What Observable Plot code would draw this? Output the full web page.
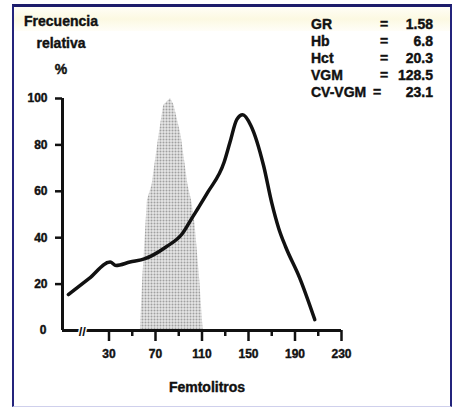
<!DOCTYPE html>
<html><head><meta charset="utf-8">
<script src="https://cdn.jsdelivr.net/npm/d3@7"></script>
<script src="https://cdn.jsdelivr.net/npm/@observablehq/plot@0.6"></script>
<style>
body{margin:0;background:#fff;}
#wrap{position:relative;width:458px;height:408px;overflow:hidden;background:#fff;}
#band{position:absolute;left:14px;top:7px;width:436px;height:24px;background:linear-gradient(#fffef6,#fcf9e2 50%,#fffef8);}
#frame{position:absolute;left:12px;top:4px;width:436px;height:399px;border-left:2px solid #24247c;border-right:2px solid #24247c;border-top:3px solid #1c1c6a;border-bottom:1px solid #cfd0ec;pointer-events:none;}
#wrap svg{position:absolute;left:0;top:0;}
</style></head><body>
<div id="wrap"><div id="band"></div></div>
<script>
// Patient curve (femtolitres, relative frequency %)
const curveX = [-5, 13, 31, 36, 48, 61, 67, 79, 93, 102, 107, 115, 129, 134, 140, 145, 152, 163, 170, 176, 182, 194, 207];
const curveY = [15.5, 22.5, 29.5, 28, 29.5, 31, 32.3, 36, 41.7, 49, 53, 59.6, 72.5, 81, 91, 93, 88.4, 71, 55, 44, 36, 22.7, 4.7];
// Normal reference distribution (shaded)
const normalX = [57, 59, 61, 63, 67, 73, 77, 83, 86, 92, 98, 101, 104, 108, 111];
const normalY = [0, 22, 39, 56, 62.5, 84, 97, 100, 97, 84, 62.5, 56, 46, 22, 0];
// Axis ticks
const yTicks = [0, 20, 40, 60, 80, 100];
const xMajorTicks = [30, 70, 110, 150, 190, 230];
const xMinorTicks = [50, 90, 130, 170, 210];
const xStart = -10;
const xBreak = 7;
// Texts
const titleLines = ["Frecuencia", "relativa", "%"];
const xLabel = "Femtolitros";
const legendLabels = ["GR", "Hb", "Hct", "VGM", "CV-VGM"];
const legendValues = ["1.58", "6.8", "20.3", "128.5", "23.1"];

const curve = curveX.map((x, i) => ({x, y: curveY[i]}));
const normal = normalX.map((x, i) => ({x, y: normalY[i]}));
const font = "'Liberation Sans', Arial, sans-serif";

const plot = Plot.plot({
  width: 458, height: 408,
  marginLeft: 62, marginRight: 117, marginTop: 98, marginBottom: 78,
  style: {background: "transparent", fontFamily: font, fontWeight: "bold", fontSize: "12px", color: "#111"},
  x: {domain: [xStart, 230]},
  y: {domain: [0, 100]},
  marks: [
    Plot.areaY(normal, {x: "x", y: "y", fill: "url(#dots)"}),
    Plot.ruleX([xStart], {strokeWidth: 3, stroke: "#111"}),
    Plot.ruleY([0], {strokeWidth: 3, stroke: "#111"}),
    Plot.axisY(yTicks.filter(d => d > 0), {tickSize: 7, tickPadding: 8, strokeWidth: 2.5, label: null, fontSize: 12, fontWeight: "bold"}),
    Plot.axisY([0], {tickSize: 0, tickPadding: 16, label: null, fontSize: 12, fontWeight: "bold"}),
    Plot.axisX(xMajorTicks, {tickSize: 11, tickPadding: 8, strokeWidth: 2.5, label: null, fontSize: 12, fontWeight: "bold"}),
    Plot.axisX(xMinorTicks, {tickSize: 6, strokeWidth: 2.5, tickFormat: () => "", label: null}),
    Plot.line(curve, {x: "x", y: "y", stroke: "#111", strokeWidth: 3.5, strokeLinejoin: "round", curve: "monotone-x"}),
    Plot.text(["//"], {x: xBreak, y: 0, text: d => d, fontSize: 13, fontWeight: "bold", fill: "#111", stroke: "white", strokeWidth: 3, dy: 1})
  ]
});

const svg = d3.select(plot);
const defs = svg.insert("defs", ":first-child");
const pat = defs.append("pattern").attr("id", "dots").attr("patternUnits", "userSpaceOnUse").attr("width", 3).attr("height", 3);
pat.append("rect").attr("width", 3).attr("height", 3).attr("fill", "#e6e6e6");
pat.append("circle").attr("cx", 1.5).attr("cy", 1.5).attr("r", 1).attr("fill", "#a0a0a0");

// heavier tick labels, like the scanned original
svg.selectAll('g[aria-label$="tick label"]').attr("stroke", "#111").attr("stroke-width", 0.4);

const g = svg.append("g").attr("font-family", font).attr("font-weight", "bold").attr("fill", "#111")
  .attr("font-size", 14).attr("text-anchor", "start").attr("stroke", "#111").attr("stroke-width", 0.4);
const titleY = [25.5, 47.5, 73.5];
titleLines.forEach((t, i) => g.append("text").attr("x", 61).attr("y", titleY[i]).attr("text-anchor", "middle").text(t));
g.append("text").attr("x", 207).attr("y", 392).attr("text-anchor", "middle").text(xLabel);
legendLabels.forEach((t, i) => {
  const y = 29 + i * 17;
  g.append("text").attr("x", 311).attr("y", y).attr("text-anchor", "start").text(t);
  g.append("text").attr("x", t.length > 4 ? 377 : 384).attr("y", y).attr("text-anchor", "middle").text("=");
  g.append("text").attr("x", 433).attr("y", y).attr("text-anchor", "end").text(legendValues[i]);
});

document.getElementById("wrap").appendChild(plot);
const fr = document.createElement("div"); fr.id = "frame";
document.getElementById("wrap").appendChild(fr);
</script>
</body></html>
